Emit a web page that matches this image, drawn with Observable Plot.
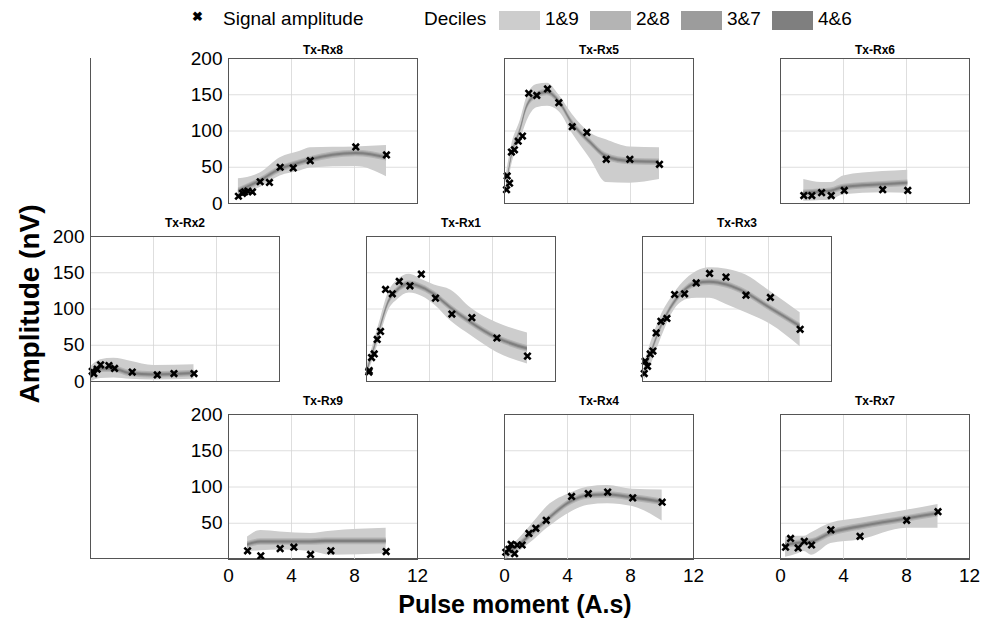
<!DOCTYPE html>
<html><head><meta charset="utf-8">
<script src="https://cdn.jsdelivr.net/npm/d3@7"></script>
<script src="https://cdn.jsdelivr.net/npm/@observablehq/plot@0.6"></script>
<style>
body{margin:0;background:#fff;font-family:"Liberation Sans",Arial,sans-serif;}
#root{position:relative;width:983px;height:620px;overflow:hidden;background:#fff;}
.abs{position:absolute;white-space:nowrap;}
</style></head><body><div id="root"></div>
<script>
// ---------- data ----------
const decileLabels = ["1&9", "2&8", "3&7", "4&6"];
const decileColors = ["#cdcdcd", "#b4b4b4", "#9c9c9c", "#7f7f7f"];
const innerHalfWidth = [4.5, 2.8, 1.4]; // nV half-widths of 2&8, 3&7, 4&6 bands around the median
const xTicks = [0, 4, 8, 12];
const yTicks = [0, 50, 100, 150, 200];

// Tx-Rx8
const rx8_pm  = [0.63,0.89,1.02,1.23,1.52,2.01,2.60,3.28,4.11,5.19,8.08,10.03];
const rx8_amp = [10,14,16,17,16,30,29,50,49,59,78,67];
const rx8_bx  = [0.63,2.01,3.28,4.55,5.19,8.08,10.03];
const rx8_d9  = [34,42,63,72,77,78,80];
const rx8_d1  = [10,22,38,45,49,51,37];
const rx8_med = [17,31,47,56,60,69,63];
// Tx-Rx5
const rx5_pm  = [0.13,0.17,0.32,0.44,0.63,0.87,1.14,1.54,2.05,2.73,3.45,4.30,5.23,6.46,7.96,9.84];
const rx5_amp = [19,38,28,71,74,86,93,152,149,158,139,106,98,61,61,54];
const rx5_bx  = [0.13,0.44,1.02,1.44,2.05,2.73,3.45,4.30,5.46,6.46,7.96,9.84];
const rx5_d9  = [42,79,116,148,164,166,150,123,97,88,78,77];
const rx5_d1  = [15,51,88,114,132,134,127,97,61,29,28,33];
const rx5_med = [24,63,102,134,149,153,141,111,84,65,58,57];
// Tx-Rx6
const rx6_pm  = [1.48,1.99,2.61,3.22,4.05,6.49,8.08];
const rx6_amp = [11,11,15,11,18,19,18];
const rx6_bx  = [1.48,2.61,3.22,4.0,6.49,8.08];
const rx6_d9  = [33,29,29,38,44,46];
const rx6_d1  = [3,4,5,12,15,14];
const rx6_med = [14,16,17,22,26,28];
// Tx-Rx2
const rx2_pm  = [0.11,0.21,0.42,0.64,1.17,1.53,2.65,4.24,5.30,6.57];
const rx2_amp = [14,11,17,23,22,18,13,9,11,11];
const rx2_bx  = [0.05,0.64,1.48,2.54,4.03,6.57];
const rx2_d9  = [21,30,32,28,22,23];
const rx2_d1  = [0,4,5,3,2,3];
const rx2_med = [11,17,17,11,9,11];
// Tx-Rx1
const rx1_pm  = [0.15,0.17,0.32,0.49,0.68,0.89,1.21,1.64,2.08,2.76,3.48,4.38,5.42,6.69,8.28,10.22];
const rx1_amp = [13,15,33,38,58,69,127,121,138,132,148,115,93,88,60,35];
const rx1_bx  = [0.06,0.49,0.91,1.34,1.98,2.72,3.57,4.31,5.37,6.65,8.28,10.22];
const rx1_d9  = [24,56,88,120,140,148,140,133,126,101,81,67];
const rx1_d1  = [10,35,65,95,113,122,117,106,83,63,40,24];
const rx1_med = [15,45,76,106,126,134,129,120,101,81,60,45];
// Tx-Rx3
const rx3_pm  = [0.11,0.17,0.32,0.49,0.66,0.87,1.17,1.55,2.04,2.67,3.41,4.26,5.30,6.57,8.12,10.01];
const rx3_amp = [11,28,21,38,42,67,83,87,120,121,136,149,144,119,116,72];
const rx3_bx  = [0.11,0.49,1.12,1.97,2.82,3.46,4.26,5.36,6.57,8.12,10.01];
const rx3_d9  = [24,51,88,120,142,152,157,155,147,124,95];
const rx3_d1  = [1,20,56,97,113,115,115,106,95,79,48];
const rx3_med = [13,35,72,107,128,135,137,133,122,101,76];
// Tx-Rx9
const rx9_pm  = [1.21,2.05,3.28,4.15,5.21,6.50,10.01];
const rx9_amp = [12,5,15,17,7,12,11];
const rx9_bx  = [1.21,2.05,3.28,5.21,6.50,10.01];
const rx9_d9  = [31,40,38,36,39,43];
const rx9_d1  = [11,12,13,11,6,8];
const rx9_med = [20,24,24,24,25,25];
// Tx-Rx4
const rx4_pm  = [0.08,0.28,0.42,0.64,0.81,1.12,1.55,1.99,2.65,4.26,5.32,6.55,8.14,10.01];
const rx4_amp = [10,14,21,8,20,20,36,43,54,87,91,93,85,79];
const rx4_bx  = [0.08,0.59,1.23,1.87,2.71,4.26,5.32,6.55,8.14,10.01];
const rx4_d9  = [15,22,36,52,73,92,100,102,97,96];
const rx4_d1  = [0.5,6,16,27,43,66,75,77,73,53];
const rx4_med = [8,14,25,38,54,80,88,89,85,79];
// Tx-Rx7
const rx7_pm  = [0.32,0.64,1.12,1.51,1.97,3.20,5.05,8.01,10.0];
const rx7_amp = [17,29,16,25,20,41,32,54,66];
const rx7_bx  = [0.32,1.12,1.51,1.97,3.20,5.05,8.01,10.0];
const rx7_d9  = [31,32,32,37,50,57,68,76];
const rx7_d1  = [3,8,11,6,22,27,43,43];
const rx7_med = [20,22,23,24,36,45,56,63];

// ---------- layout ----------
const PW = 189, PH = 145, ML = 52, MR = 8, MT = 28, MB = 36;
const FONT = "'Liberation Sans', Arial, sans-serif";
const panels = [
  {name:"Tx-Rx8", pm:rx8_pm, amp:rx8_amp, bx:rx8_bx, d1:rx8_d1, d9:rx8_d9, med:rx8_med, left:228, top:58, gap:13, yAxis:yTicks, xAxis:false},
  {name:"Tx-Rx5", pm:rx5_pm, amp:rx5_amp, bx:rx5_bx, d1:rx5_d1, d9:rx5_d9, med:rx5_med, left:504, top:58, gap:13, yAxis:null, xAxis:false},
  {name:"Tx-Rx6", pm:rx6_pm, amp:rx6_amp, bx:rx6_bx, d1:rx6_d1, d9:rx6_d9, med:rx6_med, left:780, top:58, gap:13, yAxis:null, xAxis:false},
  {name:"Tx-Rx2", pm:rx2_pm, amp:rx2_amp, bx:rx2_bx, d1:rx2_d1, d9:rx2_d9, med:rx2_med, left:90, top:236, gap:18, yAxis:yTicks, xAxis:false},
  {name:"Tx-Rx1", pm:rx1_pm, amp:rx1_amp, bx:rx1_bx, d1:rx1_d1, d9:rx1_d9, med:rx1_med, left:366, top:236, gap:18, yAxis:null, xAxis:false},
  {name:"Tx-Rx3", pm:rx3_pm, amp:rx3_amp, bx:rx3_bx, d1:rx3_d1, d9:rx3_d9, med:rx3_med, left:642, top:236, gap:18, yAxis:null, xAxis:false},
  {name:"Tx-Rx9", pm:rx9_pm, amp:rx9_amp, bx:rx9_bx, d1:rx9_d1, d9:rx9_d9, med:rx9_med, left:228, top:414, gap:18, yAxis:yTicks.slice(1), xAxis:true},
  {name:"Tx-Rx4", pm:rx4_pm, amp:rx4_amp, bx:rx4_bx, d1:rx4_d1, d9:rx4_d9, med:rx4_med, left:504, top:414, gap:18, yAxis:null, xAxis:true},
  {name:"Tx-Rx7", pm:rx7_pm, amp:rx7_amp, bx:rx7_bx, d1:rx7_d1, d9:rx7_d9, med:rx7_med, left:780, top:414, gap:18, yAxis:null, xAxis:true}
];

const root = document.getElementById("root");
function addDiv(html, css){
  const d = document.createElement("div");
  d.className = "abs"; d.innerHTML = html; d.style.cssText += css;
  root.appendChild(d); return d;
}

// outer frame (left + bottom lines)
addDiv("", "left:89.5px;top:58px;width:880px;height:501px;border-left:1px solid #555;border-bottom:1px solid #555;box-sizing:border-box;");

for (const p of panels) {
  const pts = p.pm.map((x,i)=>({x, y:p.amp[i]}));
  const band = p.bx.map((x,i)=>({x, lo:p.d1[i], hi:p.d9[i], med:p.med[i]}));
  const marks = [
    Plot.gridX([4,8], {stroke:"#d6d6d6", strokeOpacity:1, strokeWidth:0.8}),
    Plot.gridY([50,100,150], {stroke:"#d6d6d6", strokeOpacity:1, strokeWidth:0.8}),
    Plot.areaY(band, {x:"x", y1:"lo", y2:"hi", fill:decileColors[0], curve:"monotone-x"}),
    ...innerHalfWidth.map((w,k)=>Plot.areaY(band, {x:"x", y1:d=>d.med-w, y2:d=>d.med+w, fill:decileColors[k+1], curve:"monotone-x"})),
    Plot.dot(pts, {x:"x", y:"y", symbol:"times", r:3, stroke:"#000", strokeWidth:2.6}),
    Plot.frame({stroke:"#555"}),
    Plot.text([p.name], {text:d=>d, frameAnchor:"top", dy:-p.gap, fontWeight:"bold", fontSize:12, fill:"#000"})
  ];
  if (p.yAxis) marks.push(Plot.axisY(p.yAxis, {tickSize:0, tickPadding:6, fontSize:19, label:null, fill:"#000"}));
  if (p.xAxis) marks.push(Plot.axisX(xTicks, {tickSize:0, tickPadding:9, fontSize:19, label:null, fill:"#000"}));
  const chart = Plot.plot({
    width: ML+PW+MR, height: MT+PH+MB,
    marginLeft: ML, marginRight: MR, marginTop: MT, marginBottom: MB,
    x: {domain:[0,12], axis:null},
    y: {domain:[0,200], axis:null},
    style: {fontFamily: FONT, background:"transparent", overflow:"visible"},
    marks
  });
  chart.style.position = "absolute";
  chart.style.left = (p.left - ML) + "px";
  chart.style.top = (p.top - MT) + "px";
  root.appendChild(chart);
}

// legend
addDiv("&#x2716;", "left:192px;top:9px;font-size:13px;font-weight:bold;");
addDiv("Signal amplitude", "left:223px;top:8px;font-size:19px;");
addDiv("Deciles", "left:424px;top:8px;font-size:19px;");
const swX = [499, 590, 681, 772];
decileLabels.forEach((lab,i)=>{
  addDiv("", `left:${swX[i]}px;top:11px;width:41px;height:19px;background:${decileColors[i]};`);
  addDiv(lab, `left:${swX[i]+46}px;top:8px;font-size:19px;`);
});

// axis titles
addDiv("Pulse moment (A.s)", "left:515px;top:590px;transform:translateX(-50%);font-size:25px;font-weight:bold;");
addDiv("Amplitude (nV)", "left:30px;top:304px;transform:translate(-50%,-50%) rotate(-90deg);font-size:28px;font-weight:bold;");
</script></body></html>
